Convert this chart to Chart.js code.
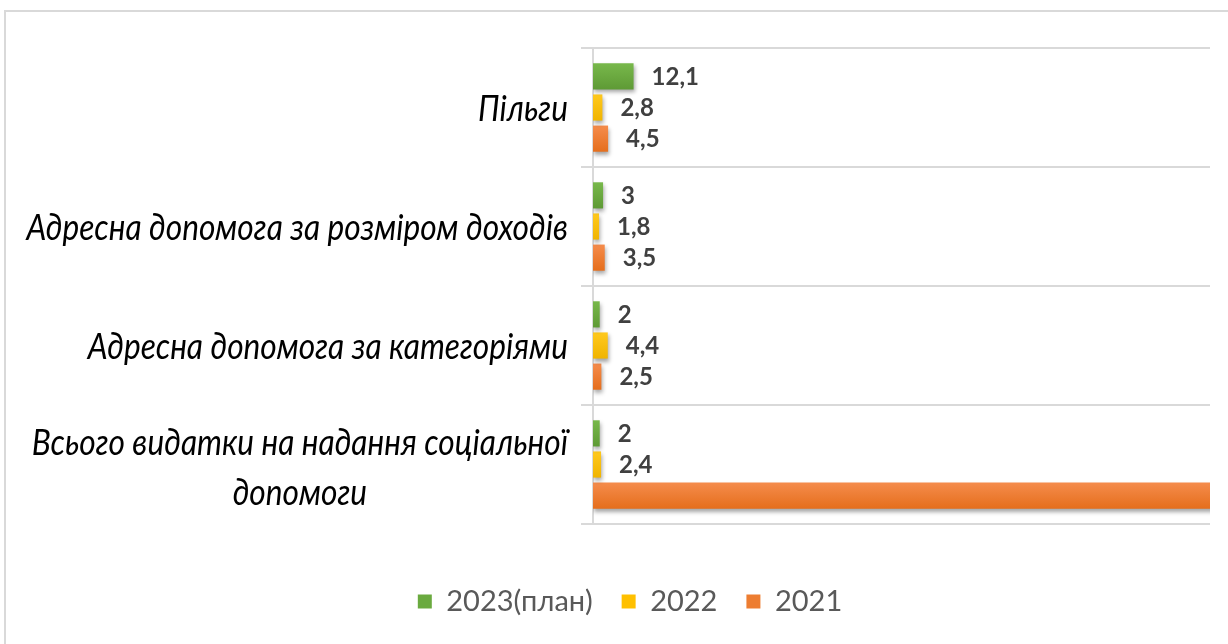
<!DOCTYPE html>
<html>
<head>
<meta charset="utf-8">
<script src="https://cdn.jsdelivr.net/npm/chart.js@4.4.1/dist/chart.umd.min.js"></script>
<style>
  html, body { margin: 0; padding: 0; background: #ffffff; }
  #wrap { position: relative; width: 1228px; height: 644px; }
</style>
</head>
<body>
<div id="wrap"><canvas id="c" width="1228" height="644"></canvas></div>
<script>
// ---- data ----
const categories = [
  'Пільги',
  'Адресна допомога за розміром доходів',
  'Адресна допомога за категоріями',
  ['Всього видатки на надання соціальної', 'допомоги']
];
const seriesNames = ['2023(план)', '2022', '2021'];
const values2023 = [12.1, 3, 2, 2];
const values2022 = [2.8, 1.8, 4.4, 2.4];
const values2021 = [4.5, 3.5, 2.5, 240];
const xMax = 184;

const colors = ['#6AAA3F', '#FFC000', '#ED7D31'];
const gradTop = ['#78B84B', '#FFC91E', '#F58C4C'];
const gradBottom = ['#5E9A35', '#F0B400', '#E56E1C'];
const FONT = "Lato, 'DejaVu Sans', sans-serif";

const framePlugin = {
  id: 'frame',
  beforeDraw(chart) {
    const ctx = chart.ctx;
    ctx.save();
    ctx.strokeStyle = '#d9d9d9';
    ctx.lineWidth = 2;
    ctx.beginPath();
    ctx.moveTo(5, 644);
    ctx.lineTo(5, 11);
    ctx.lineTo(1228, 11);
    ctx.stroke();
    ctx.restore();
  }
};

const shadowLabelPlugin = {
  id: 'shadowLabels',
  beforeDatasetsDraw(chart) {
    const ctx = chart.ctx;
    chart.data.datasets.forEach((ds, di) => {
      chart.getDatasetMeta(di).data.forEach((bar) => {
        const t = bar.y - bar.height / 2, b = bar.y + bar.height / 2;
        const g = ctx.createLinearGradient(0, t, 0, b);
        g.addColorStop(0, gradTop[di]);
        g.addColorStop(1, gradBottom[di]);
        if (bar.options) bar.options.backgroundColor = g;
      });
    });
    ctx.save();
    ctx.shadowColor = 'rgba(0,0,0,0.35)';
    ctx.shadowBlur = 4;
    ctx.shadowOffsetX = 1;
    ctx.shadowOffsetY = 3;
  },
  afterDatasetsDraw(chart) {
    const ctx = chart.ctx;
    ctx.restore();
    const area = chart.chartArea;
    ctx.save();
    ctx.font = 'bold 24px ' + FONT;
    ctx.fillStyle = '#404040';
    ctx.textAlign = 'left';
    ctx.textBaseline = 'middle';
    chart.data.datasets.forEach((ds, di) => {
      const meta = chart.getDatasetMeta(di);
      meta.data.forEach((bar, i) => {
        if (bar.x + 40 > area.right) return;
        const txt = String(ds.data[i]).replace('.', ',');
        ctx.fillText(txt, bar.x + 18, bar.y + 1);
      });
    });
    ctx.restore();
  },
  afterDraw(chart) {
    // category labels: right-aligned block, lines centred within block, condensed
    const ctx = chart.ctx;
    const ys = chart.scales.y;
    const sx = 0.88;
    ctx.save();
    ctx.font = 'italic 36px ' + FONT;
    ctx.fillStyle = '#000000';
    ctx.textBaseline = 'middle';
    ctx.textAlign = 'center';
    const right = chart.chartArea.left - 25;
    const lh = 50;
    chart.data.labels.forEach((lab, i) => {
      const lines = Array.isArray(lab) ? lab : [lab];
      const w = Math.max(...lines.map(l => ctx.measureText(l).width)) * sx;
      const cx = right - w / 2;
      const cy = ys.getPixelForValue(i) + 2;
      const y0 = cy - (lines.length - 1) * lh / 2 + (lines.length > 1 ? 2 : 0);
      lines.forEach((l, k) => {
        ctx.save();
        ctx.translate(cx, y0 + k * lh);
        ctx.scale(sx, 1);
        ctx.fillText(l, 0, 0);
        ctx.restore();
      });
    });
    ctx.restore();
  }
};

new Chart(document.getElementById('c'), {
  type: 'bar',
  data: {
    labels: categories,
    datasets: [
      { label: seriesNames[0], data: values2023, backgroundColor: (c) => colors[0], borderWidth: 0 },
      { label: seriesNames[1], data: values2022, backgroundColor: (c) => colors[1], borderWidth: 0 },
      { label: seriesNames[2], data: values2021, backgroundColor: (c) => colors[2], borderWidth: 0 }
    ]
  },
  options: {
    indexAxis: 'y',
    responsive: false,
    animation: false,
    devicePixelRatio: 1,
    categoryPercentage: 0.785,
    barPercentage: 0.84,
    layout: { padding: { top: 48, right: 18, bottom: 18, left: 50 } },
    scales: {
      x: {
        min: 0, max: xMax,
        display: true,
        grid: { display: false },
        border: { display: false },
        ticks: { display: false },
        afterFit(s) { s.height = 34; }
      },
      y: {
        grid: { display: true, offset: true, color: '#d9d9d9', lineWidth: 2, tickLength: 12 },
        border: { display: true, color: '#d9d9d9', width: 2 },
        ticks: { color: 'rgba(0,0,0,0)', font: { size: 12 } },
        afterFit(s) { s.width = 543; }
      }
    },
    plugins: {
      legend: {
        position: 'bottom',
        labels: {
          color: '#595959',
          font: { family: FONT, size: 29 },
          boxWidth: 14,
          boxHeight: 14,
          padding: 29
        }
      },
      tooltip: { enabled: false }
    }
  },
  plugins: [framePlugin, shadowLabelPlugin]
});
</script>
</body>
</html>
